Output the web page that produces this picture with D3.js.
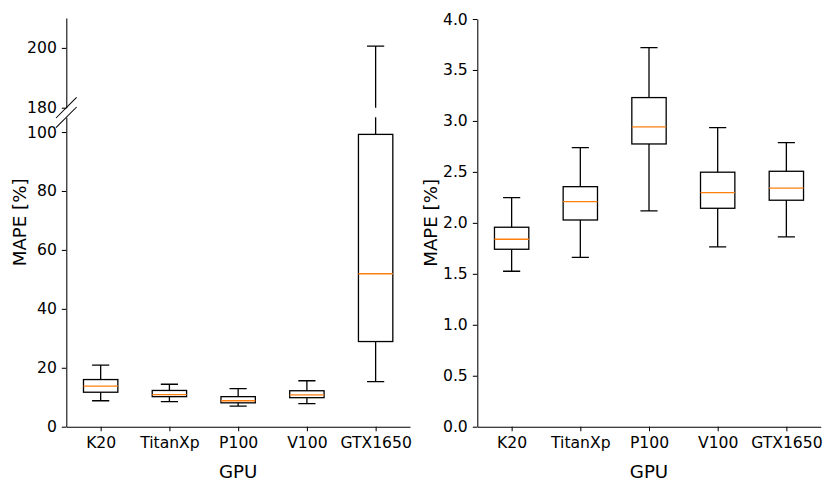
<!DOCTYPE html>
<html>
<head>
<meta charset="utf-8">
<script src="https://cdn.jsdelivr.net/npm/d3@7"></script>
<style>
  html, body { margin: 0; padding: 0; background: #fff; }
  svg { display: block; }
  text { font-family: "DejaVu Sans", sans-serif; fill: #000; }
</style>
</head>
<body>
<svg id="chart" width="824" height="481"></svg>
<script>
// ---------- data ----------
const categories = ["K20", "TitanXp", "P100", "V100", "GTX1650"];

// left panel (MAPE %, broken y axis)
const leftWhiskerLow  = [8.8, 8.5, 7.0, 7.8, 15.3];
const leftQ1          = [11.7, 10.2, 8.1, 9.85, 28.9];
const leftMedian      = [13.8, 10.9, 8.8, 10.8, 51.9];
const leftQ3          = [16.0, 12.3, 10.2, 12.2, 99.2];
const leftWhiskerHigh = [20.9, 14.4, 12.9, 15.6, 200.6];

// right panel (MAPE %)
const rightWhiskerLow  = [1.525, 1.662, 2.117, 1.764, 1.862];
const rightQ1          = [1.741, 2.028, 2.774, 2.143, 2.222];
const rightMedian      = [1.839, 2.208, 2.941, 2.296, 2.340];
const rightQ3          = [1.957, 2.355, 3.229, 2.497, 2.506];
const rightWhiskerHigh = [2.247, 2.738, 3.719, 2.934, 2.787];

// tick values
const leftTopTicks    = [180, 200];
const leftBottomTicks = [0, 20, 40, 60, 80, 100];
const rightTicks      = [0, 0.5, 1.0, 1.5, 2.0, 2.5, 3.0, 3.5, 4.0];

const xLabel = "GPU";
const yLabel = "MAPE [%]";

// ---------- layout ----------
const svg = d3.select("#chart");
const TICK_FONT = "15.6px";
const LABEL_FONT = "18.2px";
const TICK_LEN = 4.5;
const SPINE_W = 1.05;
const BOX_W = 1.3;
const MEDIAN_COLOR = "#ff7f0e";

const L = { x0: 66.3, x1: 410, topY0: 18, topY1: 107.7, botY0: 117.3, botY1: 426.7 };
const R = { x0: 477.3, x1: 820.7, y0: 19, y1: 426.7 };

const xLeft = d3.scaleLinear().domain([0.5, categories.length + 0.5]).range([L.x0, L.x1]);
const xRight = d3.scaleLinear().domain([0.5, categories.length + 0.5]).range([R.x0, R.x1]);
const yTop = d3.scaleLinear().domain([180, 210]).range([L.topY1, L.topY0]);
const yBot = d3.scaleLinear().domain([0, 105]).range([L.botY1, L.botY0]);
const yRight = d3.scaleLinear().domain([0, 4]).range([R.y1, R.y0]);

const defs = svg.append("defs");
function clip(id, x0, x1, y0, y1) {
  defs.append("clipPath").attr("id", id).append("rect")
    .attr("x", x0).attr("y", y0).attr("width", x1 - x0).attr("height", y1 - y0);
  return "url(#" + id + ")";
}

function styleAxis(g) {
  g.selectAll(".domain").attr("stroke", "#000").attr("stroke-width", SPINE_W);
  g.selectAll(".tick line").attr("stroke", "#000").attr("stroke-width", SPINE_W);
  g.selectAll(".tick text").style("font-size", TICK_FONT).attr("font-family", "DejaVu Sans");
}

function drawBoxes(g, x, y, lo, q1, med, q3, hi, clipUrl) {
  const gg = g.append("g").attr("clip-path", clipUrl);
  const bw = (x(1.25) - x(1)) * 2 / 2; // half box width (0.5 units box)
  const cw = (x(1.125) - x(1));        // half cap width (0.25 units cap)
  categories.forEach((c, i) => {
    const cx = x(i + 1);
    const boxHalf = x(1.25) - x(1);
    // whiskers
    gg.append("line").attr("x1", cx).attr("x2", cx).attr("y1", y(q3[i])).attr("y2", y(hi[i]))
      .attr("stroke", "#000").attr("stroke-width", BOX_W);
    gg.append("line").attr("x1", cx).attr("x2", cx).attr("y1", y(q1[i])).attr("y2", y(lo[i]))
      .attr("stroke", "#000").attr("stroke-width", BOX_W);
    // caps
    gg.append("line").attr("x1", cx - cw).attr("x2", cx + cw).attr("y1", y(hi[i])).attr("y2", y(hi[i]))
      .attr("stroke", "#000").attr("stroke-width", BOX_W);
    gg.append("line").attr("x1", cx - cw).attr("x2", cx + cw).attr("y1", y(lo[i])).attr("y2", y(lo[i]))
      .attr("stroke", "#000").attr("stroke-width", BOX_W);
    // box
    gg.append("rect").attr("x", cx - boxHalf).attr("width", 2 * boxHalf)
      .attr("y", y(q3[i])).attr("height", y(q1[i]) - y(q3[i]))
      .attr("fill", "none").attr("stroke", "#000").attr("stroke-width", BOX_W);
    // median
    gg.append("line").attr("x1", cx - boxHalf).attr("x2", cx + boxHalf)
      .attr("y1", y(med[i])).attr("y2", y(med[i]))
      .attr("stroke", MEDIAN_COLOR).attr("stroke-width", BOX_W);
  });
}

// ---------- left panel ----------
const leftG = svg.append("g");

// top (broken) axes
const clipTop = clip("clipTop", L.x0 - 1, L.x1 + 1, L.topY0, L.topY1);
const clipBot = clip("clipBot", L.x0 - 1, L.x1 + 1, L.botY0, L.botY1);

drawBoxes(leftG, xLeft, yTop, leftWhiskerLow, leftQ1, leftMedian, leftQ3, leftWhiskerHigh, clipTop);
drawBoxes(leftG, xLeft, yBot, leftWhiskerLow, leftQ1, leftMedian, leftQ3, leftWhiskerHigh, clipBot);

leftG.append("g").attr("transform", `translate(${L.x0},0)`)
  .call(d3.axisLeft(yTop).tickValues(leftTopTicks).tickFormat(d3.format("d"))
    .tickSize(TICK_LEN).tickSizeOuter(0).tickPadding(5))
  .call(styleAxis);

leftG.append("g").attr("transform", `translate(${L.x0},0)`)
  .call(d3.axisLeft(yBot).tickValues(leftBottomTicks).tickFormat(d3.format("d"))
    .tickSize(TICK_LEN).tickSizeOuter(0).tickPadding(5))
  .call(styleAxis);

leftG.append("g").attr("transform", `translate(0,${L.botY1})`)
  .call(d3.axisBottom(xLeft).tickValues(categories.map((c, i) => i + 1))
    .tickFormat((d) => categories[d - 1]).tickSize(TICK_LEN).tickSizeOuter(0).tickPadding(6))
  .call(styleAxis);

// break marks
const dm = 10.3;
[L.topY1, L.botY0].forEach((yy) => {
  leftG.append("line")
    .attr("x1", L.x0 - dm).attr("y1", yy + dm).attr("x2", L.x0 + dm).attr("y2", yy - dm)
    .attr("stroke", "#000").attr("stroke-width", SPINE_W);
});

leftG.append("text")
  .attr("transform", `translate(25.5,${(L.topY0 + L.botY1) / 2}) rotate(-90)`)
  .attr("text-anchor", "middle").style("font-size", LABEL_FONT).text(yLabel);
leftG.append("text")
  .attr("x", (L.x0 + L.x1) / 2).attr("y", 478)
  .attr("text-anchor", "middle").style("font-size", LABEL_FONT).text(xLabel);

// ---------- right panel ----------
const rightG = svg.append("g");
const clipR = clip("clipR", R.x0 - 1, R.x1 + 1, R.y0, R.y1);
drawBoxes(rightG, xRight, yRight, rightWhiskerLow, rightQ1, rightMedian, rightQ3, rightWhiskerHigh, clipR);

rightG.append("g").attr("transform", `translate(${R.x0},0)`)
  .call(d3.axisLeft(yRight).tickValues(rightTicks).tickFormat(d3.format(".1f"))
    .tickSize(TICK_LEN).tickSizeOuter(0).tickPadding(5))
  .call(styleAxis);

rightG.append("g").attr("transform", `translate(0,${R.y1})`)
  .call(d3.axisBottom(xRight).tickValues(categories.map((c, i) => i + 1))
    .tickFormat((d) => categories[d - 1]).tickSize(TICK_LEN).tickSizeOuter(0).tickPadding(6))
  .call(styleAxis);

rightG.append("text")
  .attr("transform", `translate(436.5,${(R.y0 + R.y1) / 2}) rotate(-90)`)
  .attr("text-anchor", "middle").style("font-size", LABEL_FONT).text(yLabel);
rightG.append("text")
  .attr("x", (R.x0 + R.x1) / 2).attr("y", 478)
  .attr("text-anchor", "middle").style("font-size", LABEL_FONT).text(xLabel);
</script>
</body>
</html>
